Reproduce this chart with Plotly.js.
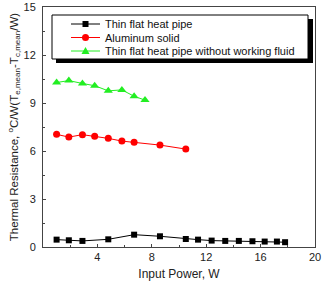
<!DOCTYPE html>
<html>
<head>
<meta charset="utf-8">
<script src="https://cdn.plot.ly/plotly-3.0.1.min.js"></script>
<style>
  html, body { margin: 0; padding: 0; background: #fff; }
  #chart { width: 325px; height: 281px; }
</style>
</head>
<body>
<div id="chart"></div>
<script>
// Thermal resistance versus input power for three specimens
const seriesNames = [
  'Thin flat heat pipe',
  'Aluminum solid',
  'Thin flat heat pipe without working fluid'
];
const seriesColors = ['#000000', '#ff0000', '#22ee22'];
const seriesSymbols = ['square', 'circle', 'triangle-up'];

const heatPipePower = [1.0, 1.9, 2.9, 4.8, 6.7, 8.6, 10.5, 11.4, 12.4, 13.4, 14.4, 15.4, 16.3, 17.2, 17.8];
const heatPipeR     = [0.46, 0.42, 0.38, 0.48, 0.77, 0.67, 0.50, 0.46, 0.40, 0.38, 0.38, 0.36, 0.34, 0.34, 0.30];

const aluminumPower = [1.0, 1.9, 2.9, 3.8, 4.8, 5.8, 6.7, 8.6, 10.5];
const aluminumR     = [7.04, 6.87, 7.02, 6.92, 6.79, 6.62, 6.54, 6.37, 6.12];

const dryPipePower = [1.0, 1.9, 2.9, 3.8, 4.8, 5.8, 6.7, 7.5];
const dryPipeR     = [10.28, 10.40, 10.22, 10.08, 9.76, 9.82, 9.42, 9.18];

const xTickVals = [4, 8, 12, 16, 20];
const yTickVals = [0, 3, 6, 9, 12, 15];

const FONT = 'Liberation Sans, Arial, sans-serif';
const markerSizes = [6, 7, 8];

const seriesX = [heatPipePower, aluminumPower, dryPipePower];
const seriesY = [heatPipeR, aluminumR, dryPipeR];

const traces = seriesNames.map((name, i) => ({
  x: seriesX[i], y: seriesY[i], name: name,
  mode: 'lines+markers', type: 'scatter',
  line: { color: seriesColors[i], width: 1 },
  marker: { symbol: seriesSymbols[i], size: markerSizes[i], color: seriesColors[i] }
}));

// plot area in pixels, used to place the boxed key
const W = 325, H = 281;
const M = { l: 43, r: 10, t: 7, b: 34 };
const PW = W - M.l - M.r, PH = H - M.t - M.b;
const px = v => (v - M.l) / PW;          // pixel x -> paper x
const py = v => (H - M.b - v) / PH;      // pixel y -> paper y

const shapes = [
  // drop shadow behind the key panel
  { type: 'rect', xref: 'paper', yref: 'paper', layer: 'above',
    x0: px(56), x1: px(313), y0: py(63), y1: py(19),
    fillcolor: '#000000', line: { width: 0 } },
  // key panel
  { type: 'rect', xref: 'paper', yref: 'paper', layer: 'above',
    x0: px(52), x1: px(308), y0: py(59), y1: py(15),
    fillcolor: '#ffffff', line: { color: '#000000', width: 1 } }
];
const annotations = [];

const keyRows = [24, 37.5, 51];
const keyLine = [71, 100];
const keyMid = (keyLine[0] + keyLine[1]) / 2;

seriesNames.forEach((name, i) => {
  const yr = keyRows[i];
  const c = seriesColors[i];
  shapes.push({ type: 'line', xref: 'paper', yref: 'paper', layer: 'above',
    x0: px(keyLine[0]), x1: px(keyLine[1]), y0: py(yr), y1: py(yr),
    line: { color: c, width: 1 } });
  const h = markerSizes[i] / 2;
  if (seriesSymbols[i] === 'square') {
    shapes.push({ type: 'rect', xref: 'paper', yref: 'paper', layer: 'above',
      x0: px(keyMid - h), x1: px(keyMid + h), y0: py(yr + h), y1: py(yr - h),
      fillcolor: c, line: { width: 0 } });
  } else if (seriesSymbols[i] === 'circle') {
    shapes.push({ type: 'circle', xref: 'paper', yref: 'paper', layer: 'above',
      x0: px(keyMid - h), x1: px(keyMid + h), y0: py(yr + h), y1: py(yr - h),
      fillcolor: c, line: { width: 0 } });
  } else {
    const p = `M${px(keyMid)},${py(yr - h)} L${px(keyMid + h)},${py(yr + h * 0.75)} L${px(keyMid - h)},${py(yr + h * 0.75)} Z`;
    shapes.push({ type: 'path', xref: 'paper', yref: 'paper', layer: 'above',
      path: p, fillcolor: c, line: { width: 0 } });
  }
  annotations.push({ xref: 'paper', yref: 'paper', x: px(103), y: py(yr),
    xanchor: 'left', yanchor: 'middle', showarrow: false, text: name,
    font: { family: FONT, size: 11, color: '#111' } });
});

const axisCommon = {
  showgrid: false,
  zeroline: false,
  showline: true,
  mirror: true,
  linecolor: '#444',
  linewidth: 1,
  ticks: 'inside',
  ticklen: 3,
  tickwidth: 1,
  tickcolor: '#444',
  tickfont: { family: FONT, size: 11, color: '#222' }
};

const layout = {
  width: W,
  height: H,
  margin: M,
  paper_bgcolor: '#ffffff',
  plot_bgcolor: '#ffffff',
  font: { family: FONT, color: '#222' },
  showlegend: false,
  xaxis: Object.assign({}, axisCommon, {
    range: [0, 20],
    tickmode: 'array',
    tickvals: xTickVals,
    ticktext: xTickVals.map(String),
    minor: { ticks: 'inside', dtick: 2, tick0: 0, ticklen: 2, tickcolor: '#444' },
    title: { text: 'Input Power, W', font: { family: FONT, size: 12, color: '#222' }, standoff: 18 }
  }),
  yaxis: Object.assign({}, axisCommon, {
    range: [0, 15],
    tickmode: 'array',
    tickvals: yTickVals,
    ticktext: yTickVals.map(String),
    ticklabelstandoff: 4,
    minor: { ticks: 'inside', dtick: 1.5, tick0: 0, ticklen: 2, tickcolor: '#444' },
    title: {
      text: 'Thermal Resistance, <sup>o</sup>C/W(T<sub>e,mean</sub>-T<sub>c,mean</sub>/W)',
      font: { family: FONT, size: 11.5, color: '#222' },
      standoff: 2
    }
  }),
  shapes: shapes,
  annotations: annotations
};

Plotly.newPlot('chart', traces, layout, { staticPlot: true, displayModeBar: false });
</script>
</body>
</html>
